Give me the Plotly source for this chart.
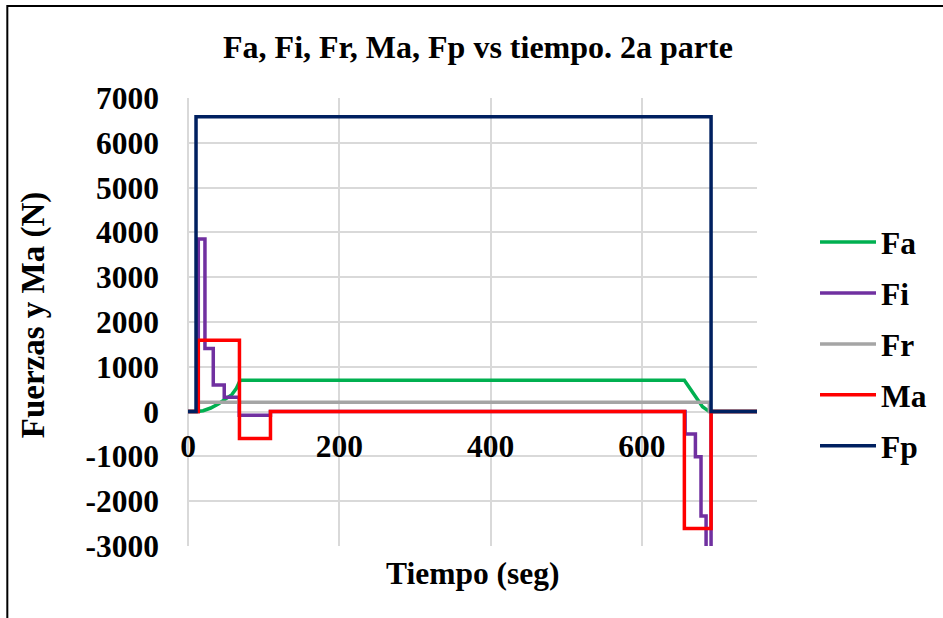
import plotly.graph_objects as go

# ---- data ----
fa_t = [0, 12, 20, 30, 40, 50, 58, 64, 69, 656, 663, 672, 680, 689, 752]
fa_v = [0, 0, 20, 80, 170, 280, 380, 520, 700, 700, 520, 300, 110, 0, 0]

fi_t = [0, 13.6, 22.4, 33.4, 47.9, 67.7, 109, 657, 670.6, 678, 684.7, 691.3, 752]
fi_v = [0, 3850, 1410, 595, 320, -80, 0, -500, -1007, -2330, -3850, 0, 0]

fr_t = [0, 13, 689, 752]
fr_v = [0, 210, 0, 0]

ma_t = [0, 13.6, 68, 109, 656, 691.3, 752]
ma_v = [0, 1595, -600, 0, -2610, 0, 0]

fp_t = [0, 10.6, 691.3, 752]
fp_v = [0, 6580, 0, 0]

x_ticks = [0, 200, 400, 600]
x_ticklabels = ["0", "200", "400", "600"]
y_ticks = [-3000, -2000, -1000, 0, 1000, 2000, 3000, 4000, 5000, 6000, 7000]
y_ticklabels = ["-3000", "-2000", "-1000", "0", "1000", "2000", "3000",
                "4000", "5000", "6000", "7000"]

FONT = "Liberation Serif, Times New Roman, serif"
FS = 31.5

series = [
    ("Fa", fa_t, fa_v, "#00B050", "linear"),
    ("Fi", fi_t, fi_v, "#7030A0", "hv"),
    ("Fr", fr_t, fr_v, "#A5A5A5", "hv"),
    ("Ma", ma_t, ma_v, "#FF0000", "hv"),
    ("Fp", fp_t, fp_v, "#002060", "hv"),
]

fig = go.Figure()
for name, t, v, col, shape in series:
    fig.add_trace(go.Scatter(
        x=t, y=v, name=name, mode="lines", legendgroup=name,
        line=dict(color=col, width=3.5, shape=shape),
    ))

# plot area in pixels: x 188..758, y 98..546
L, R, T, B = 188, 758, 98, 546
W, H = 943, 618

def px_x(p):
    return (p - L) / (R - L)

def px_y(p):
    return (B - p) / (B - T)

fig.update_layout(
    width=W, height=H,
    margin=dict(l=L, r=W - R, t=T, b=H - B),
    paper_bgcolor="white", plot_bgcolor="white",
    font=dict(family=FONT, size=FS, color="black", weight="bold"),
    title=dict(text="Fa, Fi, Fr, Ma, Fp vs tiempo. 2a parte",
               x=478 / W, xanchor="center", y=1 - 47 / H, yanchor="middle",
               font=dict(family=FONT, size=32, color="black", weight="bold")),
    showlegend=True,
    legend=dict(x=px_x(815), xanchor="left", y=px_y(215), yanchor="top",
                font=dict(family=FONT, size=FS, color="black", weight="bold"),
                tracegroupgap=7, itemwidth=56, bgcolor="rgba(0,0,0,0)"),
    xaxis=dict(range=[0, 752], tickvals=x_ticks, ticktext=x_ticklabels,
               showgrid=True, gridcolor="#D9D9D9", gridwidth=1.5,
               zeroline=True, zerolinecolor="#D9D9D9", zerolinewidth=1.5,
               showline=False, anchor="free", position=px_y(411.6),
               ticks="", ticklabelstandoff=13),
    yaxis=dict(range=[-3000, 7000], tickvals=y_ticks, ticktext=y_ticklabels,
               showgrid=True, gridcolor="#D9D9D9", gridwidth=1.5,
               zeroline=True, zerolinecolor="#D9D9D9", zerolinewidth=1.5,
               showline=False, ticks="", ticklabelstandoff=28),
)

fig.add_annotation(text="Tiempo (seg)", xref="paper", yref="paper",
                   x=px_x(474), y=px_y(573), showarrow=False,
                   xanchor="center", yanchor="middle",
                   font=dict(family=FONT, size=FS, color="black", weight="bold"))
fig.add_annotation(text="Fuerzas y Ma (N)", xref="paper", yref="paper",
                   x=px_x(33), y=px_y(315), showarrow=False, textangle=-90,
                   xanchor="center", yanchor="middle",
                   font=dict(family=FONT, size=33, color="black", weight="bold"))

# outer chart border
fig.add_shape(type="rect", xref="paper", yref="paper",
              x0=px_x(7), x1=px_x(990), y0=px_y(700), y1=px_y(6),
              line=dict(color="black", width=2), fillcolor="rgba(0,0,0,0)",
              layer="below")

fig.write_html("out.html", config={"displayModeBar": False},
               post_script="document.body.style.margin='0';")
